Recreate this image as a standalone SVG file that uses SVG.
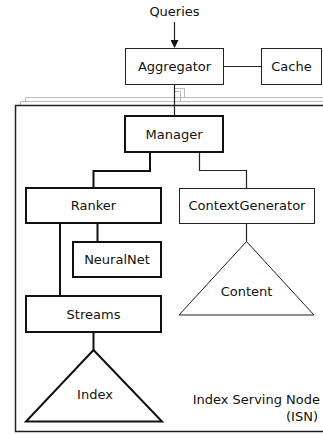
<svg xmlns="http://www.w3.org/2000/svg" width="323" height="434" viewBox="0 0 323 434">
<style>
text{font-family:"DejaVu Sans","Liberation Sans",sans-serif;font-size:13px;fill:#111;text-anchor:middle}
.thin{fill:#fff;stroke:#222;stroke-width:1}
.thick{fill:#fff;stroke:#111;stroke-width:2}
.lt{fill:none;stroke:#222;stroke-width:1.2}
.lk{fill:none;stroke:#111;stroke-width:2}
.ghost{fill:none;stroke:#bbb;stroke-width:1}
</style>
<defs>
<marker id="arr" markerWidth="8" markerHeight="8" refX="7" refY="4" orient="auto" markerUnits="userSpaceOnUse">
<path d="M0,0 L8,4 L0,8 Z" fill="#111"/>
</marker>
</defs>
<rect width="323" height="434" fill="#fff"/>
<g id="frame">
<path class="ghost" d="M323,97.5 H25.5 V101"/>
<path class="ghost" d="M323,101.5 H20.5 V105"/>
<path d="M323,105.5 H15.5 V431.5 H323" fill="none" stroke="#222" stroke-width="1.5"/>
<text x="320" y="404" style="text-anchor:end">Index Serving Node</text>
<text x="318" y="421" style="text-anchor:end">(ISN)</text>
</g>
<g id="connectors">
<path class="lt" d="M174.5,22 V47" marker-end="url(#arr)"/>
<path class="lt" d="M223.5,66.5 H261.5"/>
<path class="ghost" d="M174.5,88.5 H184.5 V97.5"/>
<path class="ghost" d="M174.5,91.5 H180.5 V101.5"/>
<path class="lt" d="M174.5,84.5 V116"/>
<path class="lk" d="M150,152 V171 H93.5 V188"/>
<path class="lt" d="M199.5,152 V170.5 H246.5 V188.5"/>
<path class="lk" d="M97.5,223 V242"/>
<path class="lk" d="M60,223 V296"/>
<path class="lk" d="M93.5,332 V350"/>
<path class="lt" d="M246.5,223.5 V241.5"/>
</g>
<g id="queries"><text x="174.5" y="16">Queries</text></g>
<g id="aggregator"><rect class="thin" x="125.5" y="48.5" width="98" height="36"/><text x="174.5" y="71">Aggregator</text></g>
<g id="cache"><rect class="thin" x="261.5" y="48.5" width="60" height="36"/><text x="291.5" y="71">Cache</text></g>
<g id="manager"><rect class="thick" x="125" y="116" width="98" height="36"/><text x="174" y="139">Manager</text></g>
<g id="ranker"><rect class="thick" x="26" y="188" width="135" height="35"/><text x="93.5" y="210">Ranker</text></g>
<g id="contextgenerator"><rect class="thin" x="179.5" y="188.5" width="135" height="35"/><text x="247" y="210">ContextGenerator</text></g>
<g id="neuralnet"><rect class="thick" x="73" y="242" width="88" height="35"/><text x="117" y="264">NeuralNet</text></g>
<g id="streams"><rect class="thick" x="26" y="296" width="135" height="36"/><text x="93.5" y="319">Streams</text></g>
<g id="index"><path class="thick" d="M93.5,350 L26,421.5 L162,421.5 Z"/><text x="95" y="399">Index</text></g>
<g id="content"><path class="thin" d="M246.5,241.5 L179,315 L314,315 Z"/><text x="246.5" y="296">Content</text></g>
</svg>
